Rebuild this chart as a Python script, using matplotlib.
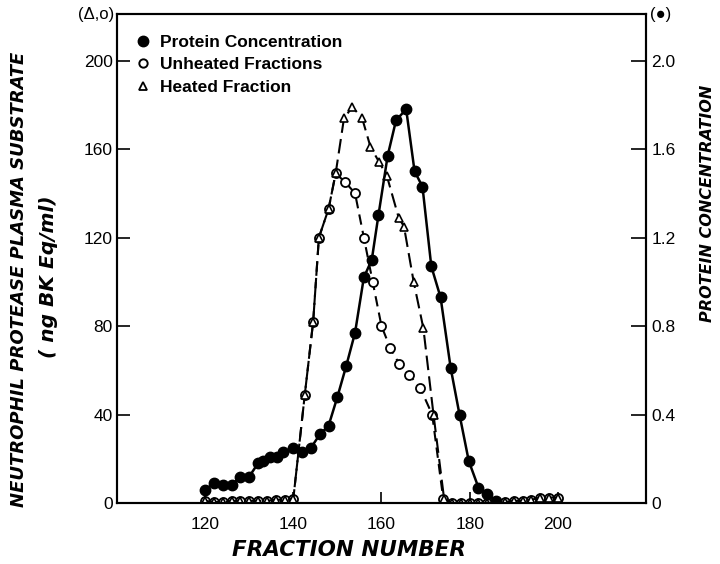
import matplotlib
matplotlib.use("Agg")
import matplotlib.pyplot as plt
from matplotlib.lines import Line2D

# protein concentration (filled circles, right axis)
prot_x = [120, 122, 124, 126, 128, 130, 132, 133.2, 134.8, 136.4, 137.7, 140, 142, 144,
          146, 148, 150, 152, 154, 156, 157.8, 159.3, 161.4, 163.3, 165.6, 167.5, 169.3,
          171.3, 173.4, 175.7, 177.7, 179.8, 182, 184, 186]
prot_y = [0.06, 0.09, 0.08, 0.08, 0.12, 0.12, 0.18, 0.19, 0.21, 0.21, 0.23, 0.25, 0.23, 0.25,
          0.31, 0.35, 0.48, 0.62, 0.77, 1.02, 1.10, 1.30, 1.57, 1.73, 1.78, 1.50, 1.43,
          1.07, 0.93, 0.61, 0.40, 0.19, 0.07, 0.04, 0.01]

# unheated fractions (open circles, left axis)
unh_x = [120, 122, 124, 126, 128, 130, 132, 134, 136, 138, 140, 142.6, 144.5, 145.8, 148,
         149.6, 151.8, 154, 156, 158, 160, 162, 164, 166.3, 168.8, 171.5, 174,
         176, 178, 180, 182, 184, 186, 188, 190, 192, 194, 196, 198, 200]
unh_y = [1, 0.5, 0.5, 1, 1, 1, 1, 1, 1.5, 1.5, 2, 49, 82, 120, 133,
         149, 145, 140, 120, 100, 80, 70, 63, 58, 52, 40, 2,
         0, 0, 0, 0, 0, 0.5, 0.5, 1, 1, 1.5, 2.5, 2.5, 2.5]

# heated fraction (open triangles, left axis)
hea_x = [120, 122, 124, 126, 128, 130, 132, 134, 136, 138, 140, 142.6, 144.5, 145.8, 148,
         149.6, 151.5, 153.4, 155.6, 157.5, 159.5, 161.2, 163.9, 165.1, 167.3, 169.5, 171.8, 174.2,
         176, 178, 180, 182, 184, 186, 188, 190, 192, 194, 196, 198, 200]
hea_y = [1, 0.5, 0.5, 1, 1, 1, 1, 1, 1.5, 1.5, 2, 49, 82, 120, 133,
         149, 174, 179, 174, 161, 154, 148, 129, 125, 100, 79, 40, 2,
         0, 0, 0, 0, 0, 0.5, 0.5, 1, 1, 1.5, 2.5, 2.5, 2.5]

x_ticks = [120, 140, 160, 180, 200]
left_ticks = [0, 40, 80, 120, 160, 200]
right_ticks = [0, 0.4, 0.8, 1.2, 1.6, 2.0]
right_labels = ["0", "0.4", "0.8", "1.2", "1.6", "2.0"]

plt.rcParams["font.family"] = ["Liberation Sans", "DejaVu Sans"]
plt.rcParams["font.size"] = 12

fig = plt.figure(figsize=(7.2, 5.64), dpi=100)
ax = fig.add_axes([0.1625, 0.108, 0.7347, 0.867])
ax2 = ax.twinx()

ax.plot(unh_x, unh_y, color="black", linewidth=1.5, dashes=(5, 3),
        marker="o", markersize=6.5, markerfacecolor="white", markeredgecolor="black",
        markeredgewidth=1.3, zorder=3)
ax.plot(hea_x, hea_y, color="black", linewidth=1.5, dashes=(7, 3),
        marker="^", markersize=5.5, markerfacecolor="white", markeredgecolor="black",
        markeredgewidth=1.2, zorder=3)
ax2.plot(prot_x, prot_y, color="black", linewidth=1.8, marker="o", markersize=7.5,
         markerfacecolor="black", markeredgecolor="black", zorder=4)

ax.set_xlim(100, 220)
ax.set_ylim(0, 221)
ax2.set_ylim(0, 2.21)

ax.set_xticks(x_ticks)
ax.set_yticks(left_ticks)
ax2.set_yticks(right_ticks)
ax2.set_yticklabels(right_labels)

ax.tick_params(axis="both", direction="in", length=9, width=1.2, labelsize=12.5, pad=3)
ax.tick_params(axis="x", length=8, pad=10)
ax2.tick_params(axis="y", direction="in", length=11, width=1.2, labelsize=12.5, pad=4)

for a in (ax, ax2):
    for s in a.spines.values():
        s.set_linewidth(1.5)

# legend
handles = [
    Line2D([], [], linestyle="none", marker="o", markersize=7.5, color="black"),
    Line2D([], [], linestyle="none", marker="o", markersize=6, markerfacecolor="white",
           markeredgecolor="black", markeredgewidth=1.4),
    Line2D([], [], linestyle="none", marker="^", markersize=6, markerfacecolor="white",
           markeredgecolor="black", markeredgewidth=1.3),
]
labels = ["Protein Concentration", "Unheated Fractions", "Heated Fraction"]
ax.legend(handles, labels, loc="upper left", bbox_to_anchor=(0.01, 0.99), frameon=False,
          handlelength=0.6, handletextpad=0.7, labelspacing=0.42,
          prop={"weight": "bold", "size": 12.5})

ax.text(-0.005, 1.0, "(\u0394,o)", transform=ax.transAxes, ha="right", va="center", fontsize=12)
ax2.text(1.008, 1.0, "(\u25cf)", transform=ax2.transAxes, ha="left", va="center", fontsize=12)

lab = {"style": "italic", "weight": "bold", "family": "DejaVu Sans"}
fig.text(0.484, 0.025, "FRACTION NUMBER", ha="center", va="center", fontsize=15.5, **lab)
fig.text(0.027, 0.505, "NEUTROPHIL PROTEASE PLASMA SUBSTRATE", rotation=90, ha="center",
         va="center", fontsize=13, **lab)
fig.text(0.068, 0.51, "( ng BK Eq/ml)", rotation=90, ha="center", va="center",
         fontsize=14.5, **lab)
fig.text(0.983, 0.64, "PROTEIN CONCENTRATION", rotation=90, ha="center", va="center",
         fontsize=11.5, **lab)

fig.savefig("out.png", dpi=100)
